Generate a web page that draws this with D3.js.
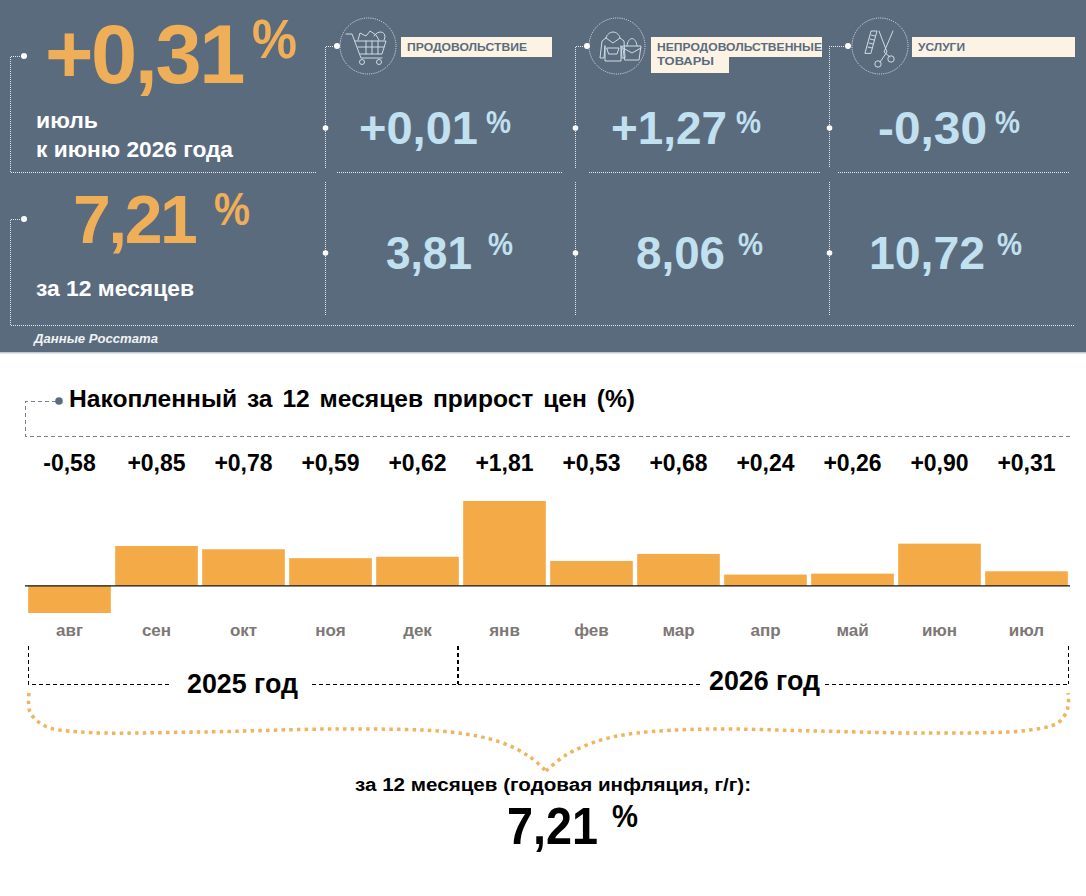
<!DOCTYPE html>
<html lang="ru"><head><meta charset="utf-8">
<script src="https://cdn.jsdelivr.net/npm/d3@7/dist/d3.min.js"></script>
<style>html,body{margin:0;padding:0;background:#fff}svg{display:block}text{font-family:"Liberation Sans",Arial,sans-serif;font-weight:700}</style>
</head><body><svg id="c" width="1086" height="896"></svg>
<script>
const months=["авг","сен","окт","ноя","дек","янв","фев","мар","апр","май","июн","июл"];
const monthValues=[-0.58,0.85,0.78,0.59,0.62,1.81,0.53,0.68,0.24,0.26,0.90,0.31];
const monthLabels=["-0,58","+0,85","+0,78","+0,59","+0,62","+1,81","+0,53","+0,68","+0,24","+0,26","+0,90","+0,31"];
const categories=["ПРОДОВОЛЬСТВИЕ","НЕПРОДОВОЛЬСТВЕННЫЕ","УСЛУГИ"];
const monthlyByCategory=["+0,01","+1,27","-0,30"];
const annualByCategory=["3,81","8,06","10,72"];
const svg=d3.select("#c");
const NAVY="#5b6b7e",ORANGE="#efae58",BLUE="#c1e0f0",CREAM="#fdf3e5",DOT="#e4e8ed";

svg.append("rect").attr("width",1086).attr("height",353).attr("fill",NAVY);
svg.append("rect").attr("y",352).attr("width",1086).attr("height",1.5).attr("fill","#c4c9cf");

function txt(s,x,y,size,fill,len,opt={}){
  const t=svg.append("text").attr("x",x).attr("y",y).attr("font-size",size).attr("fill",fill).text(s);
  if(len){t.attr("textLength",len).attr("lengthAdjust","spacingAndGlyphs");}
  if(opt.ls)t.attr("letter-spacing",opt.ls);
  if(opt.italic)t.attr("font-style","italic");
  return t;
}
function dotted(d,c=DOT){svg.append("path").attr("d",d).attr("fill","none").attr("stroke",c).attr("stroke-width",1).attr("stroke-dasharray","1 1").attr("shape-rendering","crispEdges");}
function knob(x,y,r=3){svg.append("circle").attr("cx",x).attr("cy",y).attr("r",r).attr("fill","#fff");}

// panel frames
dotted("M24 56.5H10.5V172.5H316");
dotted("M24 219.5H10.5V325.5H1075");
knob(24,56);knob(24,219);
[[325.5,337],[575.5,587],[829.5,848]].forEach(([vx,kx])=>{
  dotted(`M${kx} 46.5H${vx}V168`);
  dotted(`M${vx} 182V316`);
  knob(kx,46);knob(vx,128,2.8);knob(vx,253,2.8);
});
[[337,563],[589,820],[838,1070]].forEach(([a,b])=>dotted(`M${a} 172.5H${b}`));

// main figures
txt("+0,31",45,83,83,ORANGE,null,{ls:-2.4});
txt("%",252,58,56,ORANGE,45);
txt("июль",36,128,22,"#fff",62);
txt("к июню 2026 года",36,157,22,"#fff",197);
txt("7,21",73,243,68,ORANGE,null,{ls:-2.5});
txt("%",214,225,47,ORANGE,36);
txt("за 12 месяцев",36,296,22,"#fff",158);
txt("Данные Росстата",34,343,13,"#f0f2f4",124,{italic:true});

// category boxes
const boxes=[{x:401,w:151},{x:651,w:171},{x:912,w:163}];
boxes.forEach((b,i)=>{
  svg.append("rect").attr("x",b.x).attr("y",37).attr("width",b.w).attr("height",20).attr("fill",CREAM);
});
svg.append("rect").attr("x",651).attr("y",56).attr("width",78).attr("height",17).attr("fill",CREAM);
txt(categories[0],407,51,11.5,NAVY,120);
txt(categories[1],657,51,11.5,NAVY,165);
txt("ТОВАРЫ",657,65,11.5,NAVY,57);
txt(categories[2],918,51,11.5,NAVY,47);

// category values
const mPos=[[359,119,486],[611,116,736],[878,109,995]];
const aPos=[[386,86,488],[636,89,738],[869,116,997]];
monthlyByCategory.forEach((s,i)=>{
  txt(s,mPos[i][0],144,46,BLUE,mPos[i][1]);
  txt("%",mPos[i][2],133,31,BLUE,25);
});
annualByCategory.forEach((s,i)=>{
  txt(s,aPos[i][0],269,46,BLUE,aPos[i][1]);
  txt("%",aPos[i][2],255,31,BLUE,25);
});

// icons
[368,617,880].forEach(cx=>{
  svg.append("circle").attr("cx",cx).attr("cy",46).attr("r",28).attr("fill","none").attr("stroke",DOT).attr("stroke-width",1).attr("stroke-dasharray","1 1.2");
});
function icon(d,c="#cfdbe5",w=1){svg.append("path").attr("d",d).attr("fill","none").attr("stroke",c).attr("stroke-width",w).attr("stroke-linejoin","round").attr("stroke-linecap","round");}
// cart
icon("M346 34H352L361 58H382M355 41H386L382 54H360M366 41V54M372 41V54M378 41V54M358 47H384");
icon("M358 40L360 33L366 36L370 31L376 35L379 40M374 36C378 30 385 31 385 37L384 40");
svg.selectAll(null).data([362,379]).join("circle").attr("cx",d=>d).attr("cy",62).attr("r",2.5).attr("fill","none").attr("stroke","#cfdbe5");
// hoodie + bag
icon("M606 38L602 41L600 58H604L605 46M606 38C608 30 618 30 620 38L624 41L625 58H622L621 46M605 46V61H621V46M606 38L613 43L620 38M609 54H617L619 48H607Z");
icon("M623 46H641L639 60H625ZM627 46C628 36 636 36 637 46M623 48L632 53L641 48");
// comb + scissors
icon("M865 53L871 31H877L871 53ZM871 35L875 36M870 39L874 40M869 43L873 44M868 47L872 48");
icon("M879 31L887 52L880 62M893 31L884 52L890 57");
svg.selectAll(null).data([[878,64],[891,59]]).join("circle").attr("cx",d=>d[0]).attr("cy",d=>d[1]).attr("r",3.2).attr("fill","none").attr("stroke","#cfdbe5");

// section header
svg.append("path").attr("d","M56 401.5H25.5V436.5H1070").attr("fill","none").attr("stroke","#76818d").attr("stroke-width",1).attr("stroke-dasharray","4 3").attr("shape-rendering","crispEdges");
svg.append("circle").attr("cx",59).attr("cy",401).attr("r",3.8).attr("fill",NAVY);
txt("Накопленный за 12 месяцев прирост цен (%)",69,407,24,"#000",566).attr("style","word-spacing:3px");

// bars
const x=d3.scaleBand().domain(months).range([26,1070]).paddingInner(0.05).paddingOuter(0.025);
const y=d3.scaleLinear().domain([-0.58,1.81]).range([613,501]);
svg.selectAll(".bar").data(monthValues).join("rect").attr("class","bar")
  .attr("x",(d,i)=>x(months[i])).attr("width",x.bandwidth())
  .attr("y",d=>y(Math.max(d,0))).attr("height",d=>Math.abs(y(d)-y(0)))
  .attr("fill","#f4ab47");
svg.append("line").attr("x1",25).attr("x2",1070).attr("y1",y(0)).attr("y2",y(0)).attr("stroke","#111").attr("stroke-width",1.2);
svg.selectAll(".vl").data(monthLabels).join("text").attr("class","vl")
  .attr("x",(d,i)=>x(months[i])+x.bandwidth()/2).attr("y",471)
  .attr("text-anchor","middle").attr("font-size",23).attr("fill","#000").text(d=>d);
const ax=svg.append("g").attr("transform","translate(0,621)").call(d3.axisBottom(x).tickSize(0).tickPadding(3));
ax.select(".domain").remove();
ax.selectAll("text").attr("font-size",17).attr("fill","#7d7776").style("font-family",'"Liberation Sans",Arial,sans-serif').style("font-weight",700);

// year brackets
function yr(d,w=1){svg.append("path").attr("d",d).attr("fill","none").attr("stroke","#000").attr("stroke-width",w).attr("stroke-dasharray","4 3").attr("shape-rendering","crispEdges");}
yr("M28.5 646V684.5H172");yr("M312 684.5H458");yr("M458 646V684",2);yr("M458 684.5H703");yr("M825 684.5H1068");yr("M1068.5 646V684");
txt("2025 год",187,693,28,"#000",111);
txt("2026 год",709,690,28,"#000",111);

// brace
const braceLine=d3.line().curve(d3.curveCatmullRom);
const brace=[[29,693],[30,712],[45,726],[80,732],[200,732],[340,729],[450,732],[500,742],[530,757],[546,771]];
const braceR=[[546,771],[566,755],[601,740],[637,733],[709,729],[816,731],[923,733],[1030,730],[1059,722],[1068,707],[1068,693]];
[brace,braceR].forEach(p=>svg.append("path").attr("d",braceLine(p)).attr("fill","none").attr("stroke","#efb45f").attr("stroke-width",3.5).attr("stroke-dasharray","3.5 4.2"));

// summary
txt("за 12 месяцев (годовая инфляция, г/г):",355,791,18,"#000",396);
txt("7,21",507,844,51,"#000",91);
txt("%",612,827,31,"#000",26);
</script></body></html>
